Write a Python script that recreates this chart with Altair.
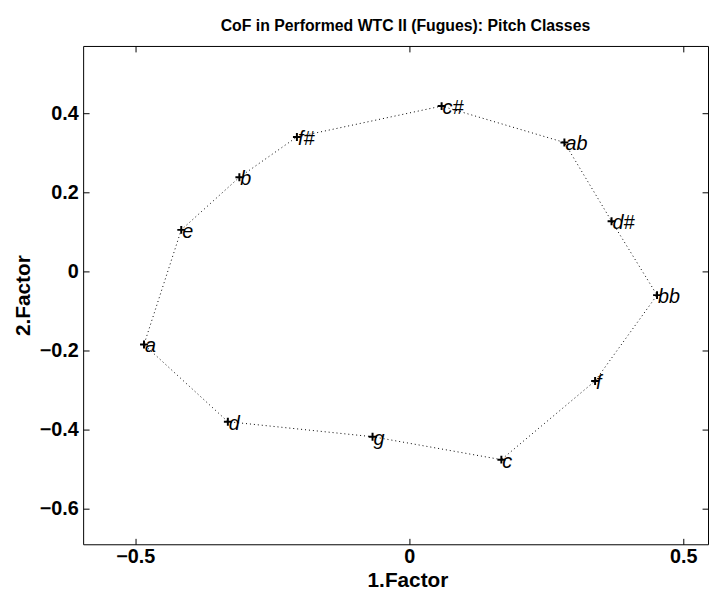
import altair as alt
import pandas as pd

# Pitch classes in circle-of-fifths order, with their positions on the two factors
notes = ["c", "g", "d", "a", "e", "b", "f#", "c#", "ab", "d#", "bb", "f"]
factor1 = [0.168, -0.067, -0.331, -0.484, -0.416, -0.310, -0.205, 0.059, 0.283, 0.369, 0.452, 0.339]
factor2 = [-0.476, -0.418, -0.380, -0.185, 0.105, 0.238, 0.340, 0.418, 0.326, 0.127, -0.060, -0.277]

x_ticks = [-0.5, 0, 0.5]
y_ticks = [-0.6, -0.4, -0.2, 0, 0.2, 0.4]

pts = pd.DataFrame({"note": notes, "f1": factor1, "f2": factor2, "order": list(range(len(notes)))})
loop = pd.concat([pts, pts.iloc[[0]].assign(order=len(notes))], ignore_index=True)

FONT = "Liberation Sans"
xs = alt.Scale(domain=[-0.595, 0.545], nice=False, zero=False)
ys = alt.Scale(domain=[-0.69, 0.57], nice=False, zero=False)

line = alt.Chart(loop).mark_line(color="black", strokeWidth=1, strokeDash=[1, 3]).encode(
    x=alt.X("f1:Q", scale=xs, title="1.Factor",
            axis=alt.Axis(orient="bottom", values=x_ticks, format=".1~f", offset=-6, tickSize=6,
                          domain=False, grid=False, labelPadding=2, titlePadding=4,
                          titleX=328, titleFontSize=21)),
    y=alt.Y("f2:Q", scale=ys, title="2.Factor",
            axis=alt.Axis(orient="left", values=y_ticks, format=".1~f", offset=-6, tickSize=6,
                          domain=False, grid=False, labelPadding=5, titlePadding=6,
                          titleFontSize=21)),
    order="order:Q",
)

points = alt.Chart(pts).mark_point(shape="M-1,0L1,0M0,-1L0,1", size=64, strokeWidth=2,
                                    color="black", filled=False, opacity=1).encode(
    x=alt.X("f1:Q", scale=xs,
            axis=alt.Axis(orient="top", values=x_ticks, offset=-6, tickSize=6, labels=False,
                          domain=False, grid=False, title=None)),
    y=alt.Y("f2:Q", scale=ys,
            axis=alt.Axis(orient="right", values=y_ticks, offset=-6, tickSize=6, labels=False,
                          domain=False, grid=False, title=None)),
)

labels = alt.Chart(pts).mark_text(align="left", baseline="middle", dx=1, dy=2, fontSize=20,
                                  fontStyle="italic", font=FONT, color="black").encode(
    x=alt.X("f1:Q", scale=xs, axis=None),
    y=alt.Y("f2:Q", scale=ys, axis=None),
    text="note:N",
)

chart = alt.layer(line, points, labels).properties(
    width=632, height=504,
    title=alt.TitleParams("CoF in Performed WTC II (Fugues): Pitch Classes", fontSize=16,
                          font=FONT, fontWeight="bold", color="black", offset=12, dx=10),
    autosize=alt.AutoSizeParams(type="none"),
    padding={"left": 76, "top": 35, "right": 1, "bottom": 58},
).configure_view(stroke="black", strokeWidth=1).configure_axis(
    labelFont=FONT, labelFontSize=20, labelFontWeight="bold", labelColor="black",
    titleFont=FONT, titleFontWeight="bold", titleColor="black",
    tickColor="black", tickWidth=1,
)

chart.save("out.html", embed_options={"renderer": "svg", "actions": False})
